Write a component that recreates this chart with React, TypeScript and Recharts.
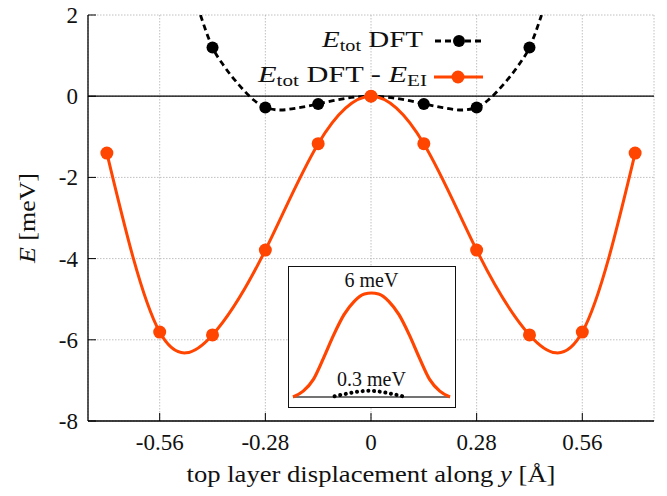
import React from 'react';
import {
  ComposedChart, LineChart, Line, XAxis, YAxis, CartesianGrid, ReferenceLine, ReferenceDot, Legend, Label,
} from 'recharts';

// ---- main chart data ----
const xMajorTicks = [-0.56, -0.28, 0, 0.28, 0.56];
const xMinorTicks = [-0.42, -0.14, 0.14, 0.42];
const yTicks = [-8, -6, -4, -2, 0, 2];

// E_tot DFT - E_EI (orange, points + cubic spline)
const orangeX = [-0.7, -0.56, -0.42, -0.28, -0.14, 0, 0.14, 0.28, 0.42, 0.56, 0.7];
const orangeE = [-1.4, -5.81, -5.88, -3.79, -1.17, 0, -1.17, -3.79, -5.88, -5.81, -1.4];

// E_tot DFT (black points)
const blackX = [-0.42, -0.28, -0.14, 0, 0.14, 0.28, 0.42];
const blackE = [1.2, -0.28, -0.19, 0, -0.19, -0.28, 1.2];

// E_tot DFT fitted curve (black dashed)
const blackFitX = [-0.452, -0.42, -0.39, -0.35, -0.31, -0.28, -0.24, -0.19, -0.14, -0.09, -0.04, 0,
  0.04, 0.09, 0.14, 0.19, 0.24, 0.28, 0.31, 0.35, 0.39, 0.42, 0.452];
const blackFitE = [2.0, 1.2, 0.75, 0.28, -0.1, -0.28, -0.34, -0.28, -0.19, -0.09, -0.02, 0,
  -0.02, -0.09, -0.19, -0.28, -0.34, -0.28, -0.1, 0.28, 0.75, 1.2, 2.0];

// ---- inset data ----
const insetOrangeU = [-1, -0.87, -0.74, -0.61, -0.48, -0.35, -0.22, -0.09, 0, 0.09, 0.22, 0.35, 0.48, 0.61, 0.74, 0.87, 1];
const insetOrangeE = [0, 0.34, 1.02, 2.26, 3.6, 4.75, 5.52, 5.94, 6.0, 5.94, 5.52, 4.75, 3.6, 2.26, 1.02, 0.34, 0];
const insetBlackU = [-0.47, -0.36, -0.25, -0.15, -0.04, 0.07, 0.17, 0.28, 0.39];
const insetBlackE = [0.04, 0.15, 0.25, 0.32, 0.36, 0.33, 0.26, 0.16, 0.05];
const insetLabels = ['6 meV', '0.3 meV'];

const orangeData = orangeX.map((x, i) => ({ x, e: orangeE[i] }));
const blackData = blackX.map((x, i) => ({ x, e: blackE[i] }));
const blackFitData = blackFitX.map((x, i) => ({ x, e: blackFitE[i] }));
const insetOrange = insetOrangeU.map((u, i) => ({ u, e: insetOrangeE[i] }));
const insetBlack = insetBlackU.map((u, i) => ({ u, e: insetBlackE[i] }));

const ORANGE = '#ff4500';
const FONT = '"Liberation Serif", "Times New Roman", serif';
const FS = 23;

const XTick = (props: any) => {
  const { x, y, payload } = props;
  return (
    <text x={x} y={y} textAnchor="middle" fontFamily={FONT} fontSize={FS} fill="#111">
      {String(payload.value)}
    </text>
  );
};

const YTick = (props: any) => {
  const { x, y, payload } = props;
  return (
    <text x={x} y={y} dy={8} textAnchor="end" fontFamily={FONT} fontSize={FS} fill="#111">
      {String(payload.value)}
    </text>
  );
};

const renderLegend = () => (
  <svg width={667} height={100} style={{ display: 'block' }}>
    <text x={423} y={47} textAnchor="end" fontFamily={FONT} fontSize={FS} fill="#111" textLength={101} lengthAdjust="spacingAndGlyphs">
      <tspan fontStyle="italic">E</tspan>
      <tspan fontSize={16} dy={4}>tot</tspan>
      <tspan dy={-4}>{'\u00a0DFT'}</tspan>
    </text>
    <line x1={435} x2={481} y1={41} y2={41} stroke="#000" strokeWidth={2.8} strokeDasharray="6 4" />
    <circle cx={459} cy={41} r={6} fill="#000" />
    <text x={427} y={82} textAnchor="end" fontFamily={FONT} fontSize={FS} fill="#111" textLength={169} lengthAdjust="spacingAndGlyphs">
      <tspan fontStyle="italic">E</tspan>
      <tspan fontSize={16} dy={4}>tot</tspan>
      <tspan dy={-4}>{'\u00a0DFT - '}</tspan>
      <tspan fontStyle="italic">E</tspan>
      <tspan fontSize={16} dy={4}>EI</tspan>
    </text>
    <line x1={434} x2={483} y1={77} y2={77} stroke={ORANGE} strokeWidth={3} />
    <circle cx={458} cy={77} r={6.5} fill={ORANGE} />
  </svg>
);

const axisLineStyle = { stroke: '#000', strokeWidth: 1.3 };

export default function App() {
  return (
    <div style={{ position: 'absolute', left: 0, top: 0, width: 667, height: 496, background: '#fff' }}>
      <ComposedChart width={667} height={496} margin={{ top: 15, right: 13, left: 0, bottom: 0 }}>
        <XAxis xAxisId="bm" type="number" dataKey="x" domain={[-0.75, 0.75]} ticks={xMinorTicks}
          orientation="bottom" height={0} tickSize={-4} tick={false} axisLine={false}
          tickLine={{ stroke: '#000', strokeWidth: 1 }} allowDataOverflow />
        <XAxis xAxisId="b" type="number" dataKey="x" domain={[-0.75, 0.75]} ticks={xMajorTicks}
          orientation="bottom" height={75} tickSize={-8} tickMargin={37} tick={<XTick />}
          axisLine={axisLineStyle} tickLine={{ stroke: '#000', strokeWidth: 1 }} allowDataOverflow>
          <Label content={() => (
            <text x={371} y={482} textAnchor="middle" fontFamily={FONT} fontSize={FS} fill="#111"
              textLength={369} lengthAdjust="spacingAndGlyphs">
              top layer displacement along <tspan fontStyle="italic">y</tspan> [Å]
            </text>
          )} />
        </XAxis>
        <XAxis xAxisId="tm" type="number" dataKey="x" domain={[-0.75, 0.75]} ticks={xMinorTicks}
          orientation="top" height={0} tickSize={-4} tick={false} axisLine={false}
          tickLine={{ stroke: '#000', strokeWidth: 1 }} allowDataOverflow />
        <XAxis xAxisId="t" type="number" dataKey="x" domain={[-0.75, 0.75]} ticks={xMajorTicks}
          orientation="top" height={0} tickSize={-8} tick={false}
          axisLine={axisLineStyle} tickLine={{ stroke: '#000', strokeWidth: 1 }} allowDataOverflow />
        <YAxis yAxisId="l" type="number" domain={[-8, 2]} ticks={yTicks} orientation="left" width={88}
          tickSize={-8} tickMargin={18} tick={<YTick />} axisLine={axisLineStyle}
          tickLine={{ stroke: '#000', strokeWidth: 1 }} allowDataOverflow>
          <Label content={() => (
            <text transform="translate(35,218) rotate(-90)" textAnchor="middle" fontFamily={FONT}
              fontSize={FS} fill="#111" textLength={90} lengthAdjust="spacingAndGlyphs">
              <tspan fontStyle="italic">E</tspan> [meV]
            </text>
          )} />
        </YAxis>
        <YAxis yAxisId="r" type="number" domain={[-8, 2]} ticks={yTicks} orientation="right" width={0}
          tickSize={-8} tick={false} axisLine={axisLineStyle}
          tickLine={{ stroke: '#000', strokeWidth: 1 }} allowDataOverflow />
        <CartesianGrid xAxisId="b" yAxisId="l" stroke="#b0b0b0" strokeWidth={0.8} strokeDasharray="1.5 1.5" />
        <ReferenceLine xAxisId="b" yAxisId="l" y={0} stroke="#000" strokeWidth={1.3} />
        <Legend layout="horizontal" verticalAlign="middle" align="center" content={renderLegend}
          wrapperStyle={{ left: 0, top: 0, width: 667, height: 100, margin: 0 }} />
        <Line xAxisId="b" yAxisId="l" data={blackFitData} dataKey="e" type="monotone" stroke="#000"
          strokeWidth={2.8} strokeDasharray="6 4" dot={false} isAnimationActive={false} legendType="none" />
        <Line xAxisId="b" yAxisId="l" data={blackData} dataKey="e" stroke="none" strokeWidth={0}
          dot={{ r: 6, fill: '#000', stroke: 'none' }} isAnimationActive={false} legendType="none" />
        <Line xAxisId="b" yAxisId="l" data={orangeData} dataKey="e" type="natural" stroke={ORANGE}
          strokeWidth={3} dot={{ r: 6.5, fill: ORANGE, stroke: 'none' }} isAnimationActive={false} legendType="none" />
      </ComposedChart>
      <div style={{ position: 'absolute', left: 288, top: 266, width: 168, height: 142, boxSizing: 'border-box',
        border: '1.3px solid #111', background: '#fff' }}>
        <LineChart width={166} height={140} margin={{ top: 26, right: 5, left: 4, bottom: 10 }}>
          <XAxis type="number" dataKey="u" domain={[-1, 1]} hide />
          <YAxis type="number" domain={[0, 6]} hide />
          <ReferenceLine y={0} stroke="#444" strokeWidth={1.6} />
          <Line data={insetBlack} dataKey="e" type="monotone" stroke="#000" strokeWidth={4}
            strokeDasharray="0.1 5.6" strokeLinecap="round" dot={false} isAnimationActive={false} />
          <Line data={insetOrange} dataKey="e" type="monotone" stroke={ORANGE} strokeWidth={3.2}
            dot={false} isAnimationActive={false} />
          <ReferenceDot x={0} y={6} r={0} stroke="none" fill="none"
            label={{ value: insetLabels[0], position: 'top', offset: 6, fontFamily: FONT, fontSize: 20, fill: '#111' }} />
          <ReferenceDot x={0} y={0.36} r={0} stroke="none" fill="none"
            label={{ value: insetLabels[1], position: 'top', offset: 5, fontFamily: FONT, fontSize: 20, fill: '#111' }} />
        </LineChart>
      </div>
    </div>
  );
}
